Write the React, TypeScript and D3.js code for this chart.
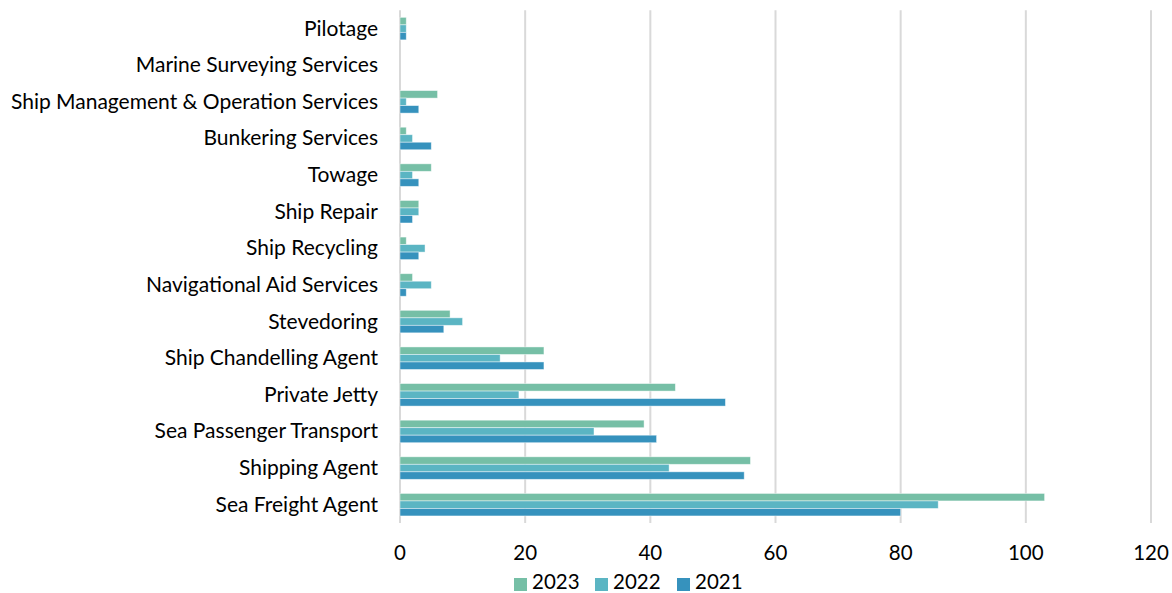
import React from "react";
import * as d3 from "d3";

const categories = [
  "Pilotage",
  "Marine Surveying Services",
  "Ship Management & Operation Services",
  "Bunkering Services",
  "Towage",
  "Ship Repair",
  "Ship Recycling",
  "Navigational Aid Services",
  "Stevedoring",
  "Ship Chandelling Agent",
  "Private Jetty",
  "Sea Passenger Transport",
  "Shipping Agent",
  "Sea Freight Agent",
];
const values2023 = [1, 0, 6, 1, 5, 3, 1, 2, 8, 23, 44, 39, 56, 103];
const values2022 = [1, 0, 1, 2, 2, 3, 4, 5, 10, 16, 19, 31, 43, 86];
const values2021 = [1, 0, 3, 5, 3, 2, 3, 1, 7, 23, 52, 41, 55, 80];
const seriesNames = ["2023", "2022", "2021"];
const xTicks = [0, 20, 40, 60, 80, 100, 120];

const colors = ["#76bfa6", "#5bb5c3", "#3692bd"];
const FONT = "Lato, 'Open Sans', sans-serif";

export default function App() {
  const W = 1172, H = 593;
  const left = 400, right = 1151, top = 10.3, bottom = 523;
  const x = d3.scaleLinear().domain([0, 120]).range([left, right]);
  const y = d3.scaleBand<string>().domain(categories).range([top, bottom]).paddingInner(0.385).paddingOuter(0.1925);
  const sub = d3.scaleBand<string>().domain(seriesNames).range([0, y.bandwidth()]);
  const series = [values2023, values2022, values2021];
  const legendX = [514, 595, 677];

  return (
    <svg width={W} height={H} style={{ position: "absolute", left: 0, top: 0, background: "#fff" }}>
      {xTicks.map((t) => (
        <line key={t} x1={x(t)} x2={x(t)} y1={top} y2={bottom} stroke="#d9d9d9" strokeWidth={2} />
      ))}
      {categories.map((c, i) => (
        <g key={c}>
          {series.map((vals, s) => (
            <rect
              key={s}
              x={x(0)}
              y={(y(c) as number) + (sub(seriesNames[s]) as number)}
              width={Math.max(0, x(vals[i]) - x(0))}
              height={sub.bandwidth()}
              fill={colors[s]}
              stroke="#ffffff"
              strokeOpacity={0.55}
              strokeWidth={0.8}
            />
          ))}
          <text
            x={378}
            y={(y(c) as number) + y.bandwidth() / 2 - 1.5}
            textAnchor="end"
            dominantBaseline="central"
            fontFamily={FONT}
            fontSize={21}
            fill="#000"
          >
            {c}
          </text>
        </g>
      ))}
      {xTicks.map((t) => (
        <text key={t} x={x(t)} y={552} textAnchor="middle" dominantBaseline="central" fontFamily={FONT} fontSize={20.5} fill="#000">
          {t}
        </text>
      ))}
      {seriesNames.map((n, s) => (
        <g key={n}>
          <rect x={legendX[s]} y={578} width={13} height={13} fill={colors[s]} />
          <text x={legendX[s] + 18} y={589} fontFamily={FONT} fontSize={20.5} fill="#000">
            {n}
          </text>
        </g>
      ))}
    </svg>
  );
}
